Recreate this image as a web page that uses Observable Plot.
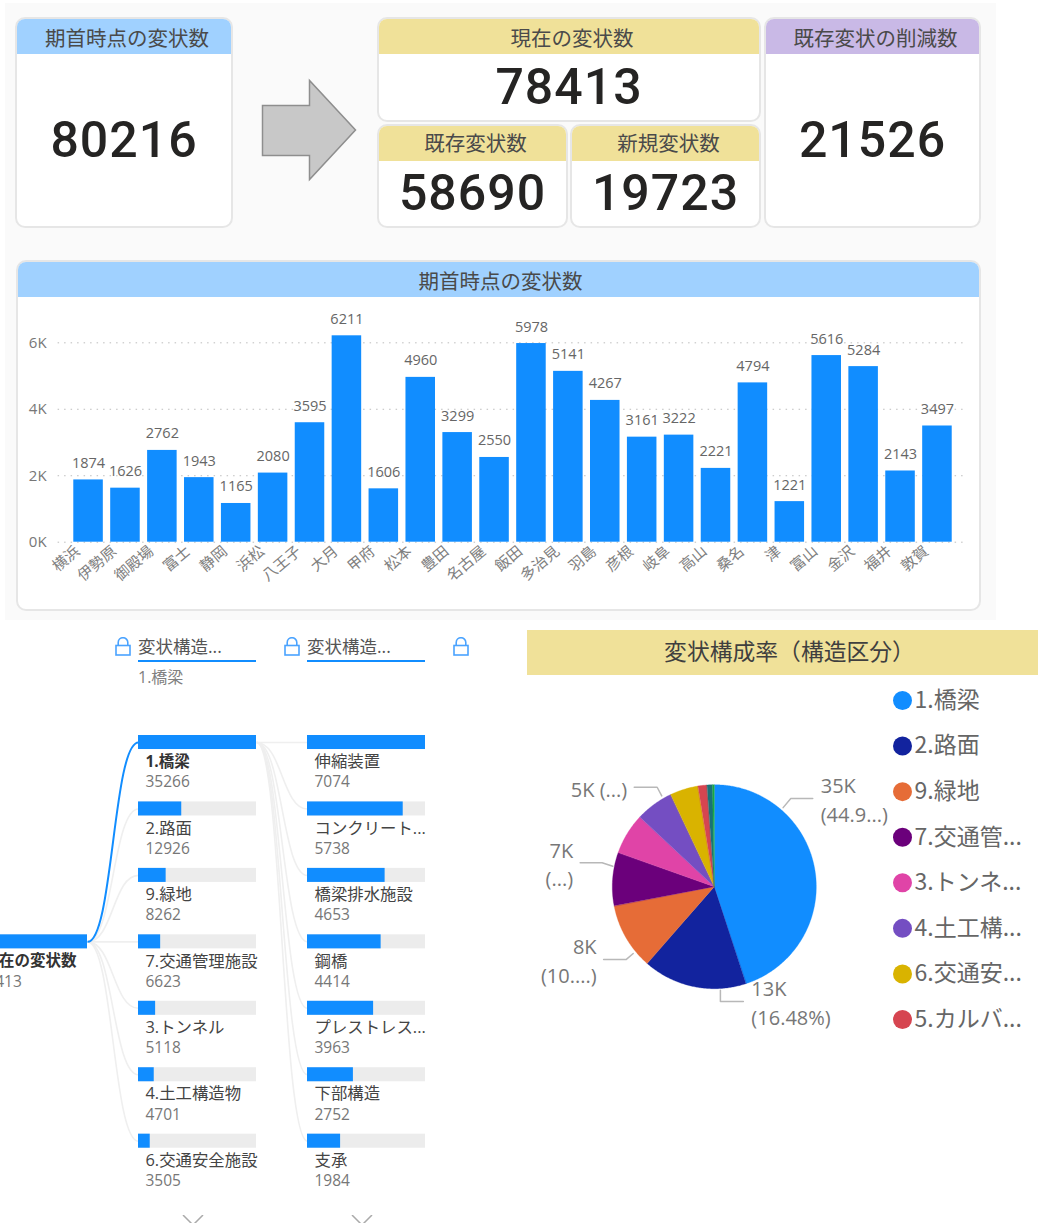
<!DOCTYPE html>
<html lang="ja"><head><meta charset="utf-8">
<script src="https://cdn.jsdelivr.net/npm/d3@7"></script>
<script src="https://cdn.jsdelivr.net/npm/@observablehq/plot@0.6"></script>
<style>
html,body{margin:0;padding:0;background:#fff;width:1038px;height:1223px;overflow:hidden;position:relative}
body{font-family:"Open Sans","Noto Sans CJK JP",sans-serif;color:#555}
.abs{position:absolute;box-sizing:border-box}
.card{background:#fff;border:2.5px solid #e6e6e6;border-radius:10px;overflow:hidden}
.head{position:absolute;left:0;right:0;top:0;height:35px;text-align:center;font-size:20.5px;color:#4a4a4a;font-family:"Noto Sans CJK JP",sans-serif}
.num{position:absolute;left:0;right:0;text-align:center;font-family:Roboto,sans-serif;font-weight:500;font-size:50px;letter-spacing:1px;color:#252423;line-height:1}
.slicer{font-size:17.5px;color:#666;font-family:"Open Sans","Noto Sans CJK JP",sans-serif}
</style></head><body>
<script>
// ---- data ----
const kpiTitles = ["期首時点の変状数","現在の変状数","既存変状数","新規変状数","既存変状の削減数"];
const kpiValues = [80216,78413,58690,19723,21526];
const barTitle = "期首時点の変状数";
const offices = ["横浜","伊勢原","御殿場","富士","静岡","浜松","八王子","大月","甲府","松本","豊田","名古屋","飯田","多治見","羽島","彦根","岐阜","高山","桑名","津","富山","金沢","福井","敦賀"];
const officeCounts = [1874,1626,2762,1943,1165,2080,3595,6211,1606,4960,3299,2550,5978,5141,4267,3161,3222,2221,4794,1221,5616,5284,2143,3497];
const rootName = "現在の変状数";
const rootValue = 78413;
const structNames = ["1.橋梁","2.路面","9.緑地","7.交通管理施設","3.トンネル","4.土工構造物","6.交通安全施設"];
const structValues = [35266,12926,8262,6623,5118,4701,3505];
const memberNames = ["伸縮装置","コンクリート...","橋梁排水施設","鋼橋","プレストレス...","下部構造","支承"];
const memberValues = [7074,5738,4653,4414,3963,2752,1984];
const pieTitle = "変状構成率（構造区分）";
const pieNames = ["1.橋梁","2.路面","9.緑地","7.交通管理施設","3.トンネル","4.土工構造物","6.交通安全施設","5.カルバート","8.その他","10.その他"];
const pieValues = [35266,12926,8262,6623,5118,4701,3505,1120,680,212];
const pieColors = ["#118DFF","#12239E","#E66C37","#6B007B","#E044A7","#744EC2","#D9B300","#D64550","#197278","#1AAB40"];
const legendLabels = ["1.橋梁","2.路面","9.緑地","7.交通管...","3.トンネ...","4.土工構...","6.交通安...","5.カルバ..."];
const pieLabels = ["35K\n(44.9...)","13K\n(16.48%)","8K\n(10....)","7K\n(...)","5K (...)"];

// ---- page chrome ----
const place = (el,l,t,w,h)=>{Object.assign(el.style,{position:"absolute",left:l+"px",top:t+"px",width:w+"px",height:h+"px",maxWidth:"none"});document.body.append(el);return el;};
const div=(cls,html="")=>{const d=document.createElement("div");d.className=cls;d.innerHTML=html;return d;};
place(div("abs"),5,3,991,617).style.background="#fafafa";
const BLUE="#A0D1FF",KHAKI="#F0E199",PURPLE="#C9B9E6";
const cards=[[15,17,218,211,BLUE,37,123,0],[377,17,384,105,KHAKI,37,70,1],[377,124,191,104,KHAKI,33,69,2],[570,124,191,104,KHAKI,33,69,3],[764,17,217,211,PURPLE,37,123,4]];
cards.forEach(([l,t,w,h,c,lh,cy,i])=>{
  const card=place(div("abs card"),l,t,w,h);
  card.innerHTML=`<div class="head" style="background:${c};line-height:${lh}px;padding-left:6px">${kpiTitles[i]}</div><div class="num" style="top:${cy-25-2}px">${kpiValues[i]}</div>`;
});
place(div("abs"),255,75,110,110).innerHTML=`<svg width="110" height="110"><polygon points="7.5,30.5 54.5,30.5 54.5,5.5 100.5,55 54.5,104.5 54.5,80.5 7.5,80.5" fill="#c8c8c8" stroke="#8e8e8e" stroke-width="1.5"/></svg>`;
const barCard=place(div("abs card"),16,260,965,351);
barCard.innerHTML=`<div class="head" style="background:${BLUE};line-height:37px;padding-left:4px">${barTitle}</div>`;
place(div("abs"),527,630,511,45).innerHTML=`<div style="background:${KHAKI};height:45px;line-height:41px;padding-left:14px;text-align:center;font-size:22.8px;color:#3f3f3f;font-family:'Noto Sans CJK JP',sans-serif">${pieTitle}</div>`;

// ---- column chart ----
const barData=offices.map((name,i)=>({name,value:officeCounts[i]}));
const barPlot=Plot.plot({
  width:1000,height:325,marginLeft:69.6,marginRight:44.6,marginTop:35.7,marginBottom:73.3,
  style:{background:"transparent",fontFamily:"'Open Sans','Noto Sans CJK JP',sans-serif"},
  x:{domain:offices,paddingInner:0.2,paddingOuter:0.1,round:false,label:null},
  y:{domain:[0,6500],label:null},
  marks:[
    Plot.ruleY([0,2000,4000,6000],{stroke:"#bdbdbd",strokeDasharray:"1.5,5",insetLeft:-12,insetRight:-8}),
    Plot.barY(barData,{x:"name",y:"value",fill:"#118DFF"}),
    Plot.text(barData,{x:"name",y:"value",text:d=>String(d.value),fontSize:14.5,fill:"#666",lineAnchor:"bottom",dy:-12}),
    Plot.axisY({ticks:[0,2000,4000,6000],tickFormat:d=>d/1000+"K",tickSize:0,tickPadding:23.5,fontSize:15,label:null,fill:"#777"}),
    Plot.axisX({tickSize:0,tickRotate:-40,tickPadding:4,dx:-11,dy:3,fontSize:15,fill:"#808080",label:null})
  ]
});
place(barPlot,0,290,1000,325);

// ---- decomposition tree ----
const BW=118/169; // bar length in column units
const node=(col,row,name,value,share)=>({col,row,name,value,share});
const nodes=[node(0,3,rootName,rootValue,1),
  ...structNames.map((n,i)=>node(1,i,n,structValues[i],structValues[i]/structValues[0])),
  ...memberNames.map((n,i)=>node(2,i,n,memberValues[i],memberValues[i]/memberValues[0]))];
const treeLinks=[
  ...structNames.map((_,i)=>({c:0,r1:3,r2:i,on:i===0})),
  ...memberNames.map((_,i)=>({c:1,r1:0,r2:i,on:false}))
].sort((a,b)=>a.on-b.on);
const rows=d3.range(7);
const inner=nodes.filter(d=>d.col>0);
const isSel=d=>d.name===structNames[0];
const rootNode=nodes.filter(d=>d.col===0);
const treePlot=Plot.plot({
  width:476,height:598,marginLeft:0,marginRight:20,marginTop:110,marginBottom:75.3,
  style:{background:"transparent",fontFamily:"'Open Sans','Noto Sans CJK JP',sans-serif"},
  x:{domain:[0,2+BW],axis:null},
  y:{type:"band",domain:rows,paddingInner:0.789,paddingOuter:0,round:false,axis:null},
  marks:[
    Plot.link(treeLinks,{x1:d=>d.c+BW,x2:d=>d.c+1,y1:"r1",y2:"r2",curve:"bump-x",stroke:d=>d.on?"#118DFF":"#efefef",strokeWidth:d=>d.on?2:1.6}),
    Plot.barX(nodes,{x1:"col",x2:d=>d.col+BW,y:"row",fill:"#ececec"}),
    Plot.barX(nodes,{x1:"col",x2:d=>d.col+BW*d.share,y:"row",fill:"#118DFF"}),
    Plot.text(inner.filter(d=>!isSel(d)),{x:"col",y:"row",text:"name",dx:7,dy:19.5,textAnchor:"start",fontSize:16.4,fill:"#444"}),
    Plot.text(inner.filter(isSel),{x:"col",y:"row",text:"name",dx:7,dy:19.5,textAnchor:"start",fontSize:15.5,fill:"#333",fontWeight:700}),
    Plot.text(inner,{x:"col",y:"row",text:d=>String(d.value),dx:7,dy:40,textAnchor:"start",fontSize:15.5,fill:"#777"}),
    Plot.text(rootNode,{x:"col",y:"row",text:"name",dx:14,dy:19.5,textAnchor:"start",fontSize:15.5,fill:"#333",fontWeight:700}),
    Plot.text(rootNode,{x:"col",y:"row",text:d=>String(d.value),dx:8,dy:40,textAnchor:"start",fontSize:15.5,fill:"#777"})
  ]
});
place(treePlot,-31,625,476,598);

// slicer headers
const lock=`<svg width="16" height="20" viewBox="0 0 16 20"><path d="M3.2 8.5V5.5a4.8 4.8 0 0 1 9.6 0V8.5" fill="none" stroke="#4aa3ff" stroke-width="1.6"/><rect x="1" y="8.5" width="14" height="9.5" fill="none" stroke="#4aa3ff" stroke-width="1.6"/></svg>`;
[[115,138],[284,307],[453,null]].forEach(([lx,tx])=>{
  place(div("abs"),lx,637,16,20).innerHTML=lock;
  if(tx!==null){
    const s=place(div("abs slicer"),tx,634,118,28);
    s.innerHTML=`<div style="line-height:24px;white-space:nowrap;color:#555">変状構造...</div>`;
    s.style.borderBottom="2.5px solid #118DFF";
  }
});
const sel=place(div("abs"),138,667,118,20);
sel.textContent=structNames[0];sel.style.cssText+=";font-size:16px;color:#808080;line-height:20px";
[[182,1215],[351,1215]].forEach(([l,t])=>{
  place(div("abs"),l,t,22,10).innerHTML=`<svg width="22" height="10" style="display:block"><polyline points="1,0 11,10 21,0" fill="none" stroke="#aaa" stroke-width="1.5"/></svg>`;
});

// ---- pie ----
const pieArcs=d3.pie().sort(null)(pieValues);
const slicePts=pieArcs.flatMap((a,i)=>{
  const n=Math.max(2,Math.ceil((a.endAngle-a.startAngle)/0.01));
  return d3.range(n+1).map(k=>{const t=a.startAngle+(a.endAngle-a.startAngle)*k/n;return {name:pieNames[i],cx:Math.sin(t),cy:Math.cos(t)};});
});
// label leaders, in pie radii: arc point, elbow, end of the leader
const leaderLayout=[
  [[0.67,0.78],[0.745,0.87],[0.96,0.87]],
  [[0.055,-1.01],[0.055,-1.12],[0.28,-1.12]],
  [[-0.80,-0.65],[-0.87,-0.71],[-1.09,-0.71]],
  [[-1.0,0.205],[-1.105,0.24],[-1.32,0.24]],
  [[-0.52,0.895],[-0.565,0.98],[-0.79,0.98]]
];
const leaderPts=leaderLayout.flatMap((pts,i)=>pts.map(([x,y])=>({i,x,y})));
const labelData=leaderLayout.map((pts,i)=>({label:pieLabels[i],x:pts[2][0],y:pts[2][1]}));
const piePlot=Plot.plot({
  width:360,height:380,margin:0,
  style:{background:"transparent",fontFamily:"'Open Sans','Noto Sans CJK JP',sans-serif"},
  x:{domain:[-1,1],range:[84.3,288.3],axis:null},
  y:{domain:[-1,1],range:[312.7,108.7],axis:null},
  color:{domain:pieNames,range:pieColors},
  marks:[
    Plot.area(slicePts,{x1:0,y1:0,x2:"cx",y2:"cy",z:"name",fill:"name",curve:"linear",stroke:"name",strokeWidth:0.3}),
    Plot.line(leaderPts,{x:"x",y:"y",z:"i",stroke:"#b8b8b8",strokeWidth:1.5,curve:"linear"}),
    Plot.text(labelData.slice(0,2),{x:"x",y:"y",text:"label",dx:8,dy:0,textAnchor:"start",fontSize:20,lineHeight:1.45,fill:"#777"}),
    Plot.text(labelData.slice(2),{x:"x",y:"y",text:"label",dx:-7,dy:0,textAnchor:"end",fontSize:20,lineHeight:1.45,fill:"#777"})
  ]
});
place(piePlot,528,676,360,380);

// ---- legend ----
const legendKeys=pieNames.slice(0,legendLabels.length);
const legendPlot=Plot.plot({
  width:148,height:360,margin:0,
  style:{background:"transparent",fontFamily:"'Noto Sans CJK JP',sans-serif"},
  y:{type:"point",domain:legendKeys,range:[20,339],padding:0,round:false,axis:null},
  color:{domain:pieNames,range:pieColors},
  marks:[
    Plot.dot(legendKeys,{y:d=>d,frameAnchor:"left",dx:10,r:9.5,fill:d=>d}),
    Plot.text(legendKeys,{y:d=>d,frameAnchor:"left",dx:22,text:(d,i)=>legendLabels[i],textAnchor:"start",fontSize:23,fill:"#666"})
  ]
});
place(legendPlot,892,680,148,360);
</script>
</body></html>
